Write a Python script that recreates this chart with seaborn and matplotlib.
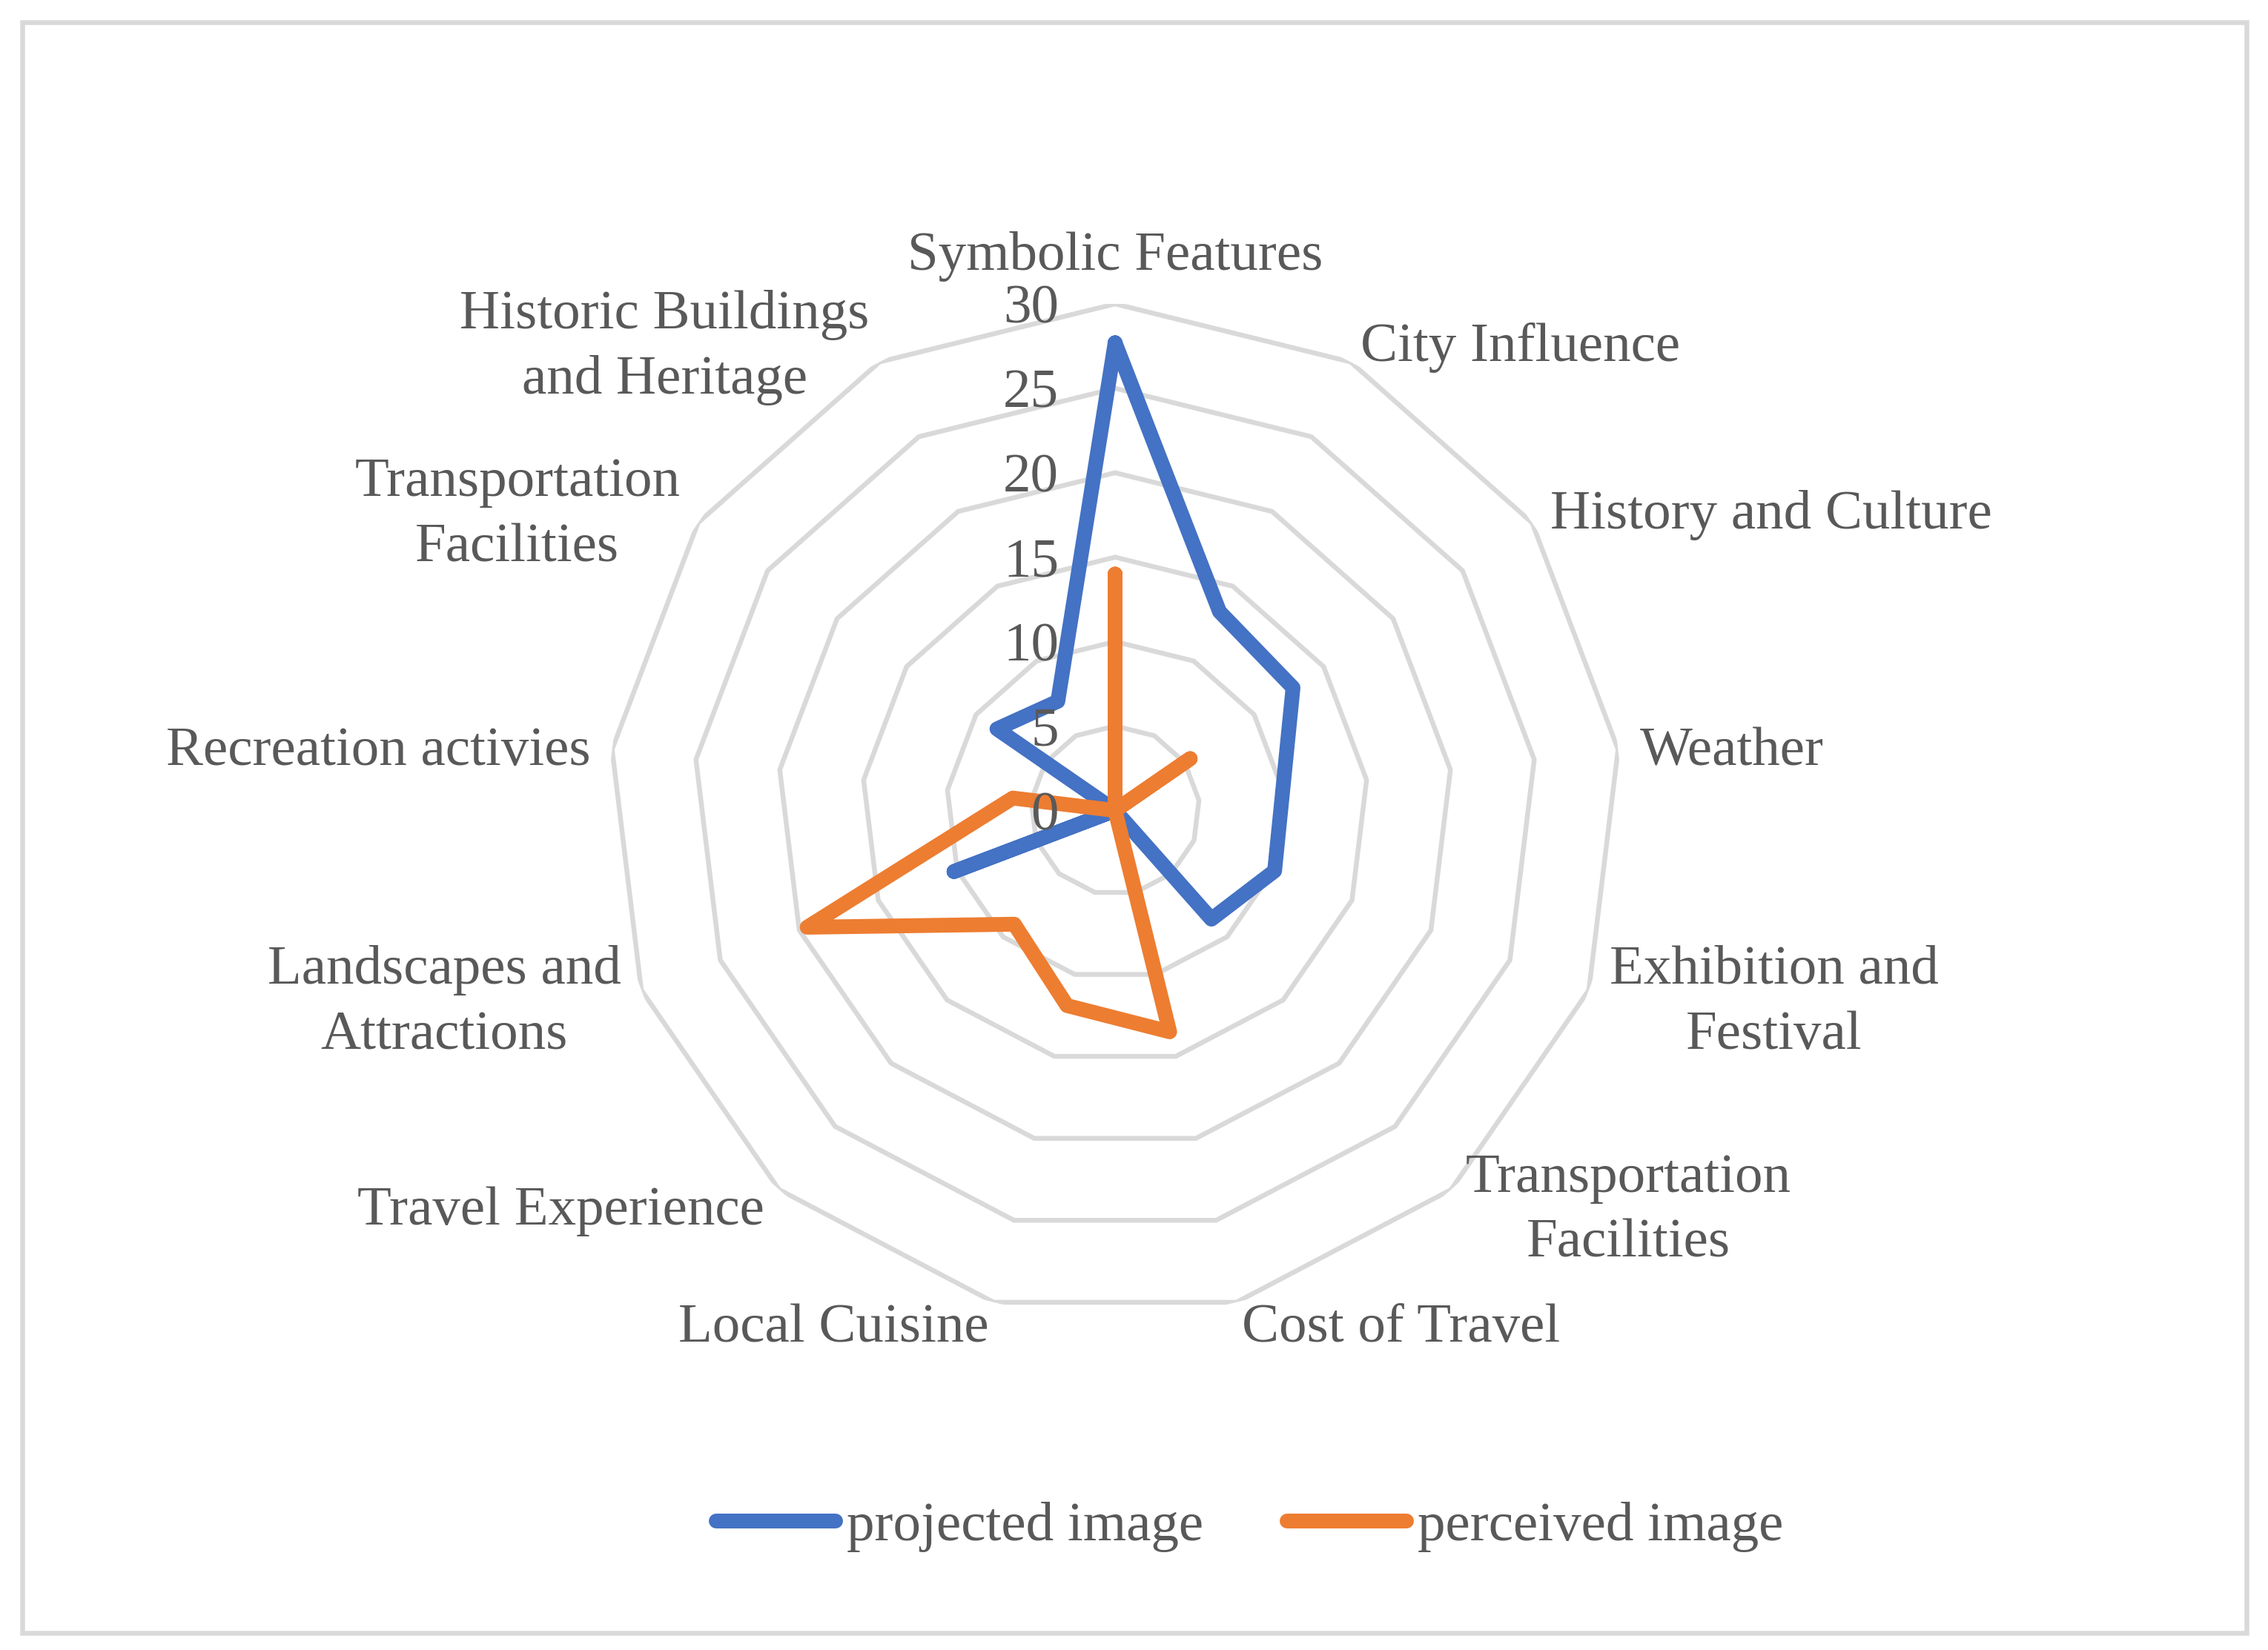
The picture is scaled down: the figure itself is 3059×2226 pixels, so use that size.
import numpy as np
import pandas as pd
import seaborn as sns
import matplotlib.pyplot as plt
from matplotlib.patches import Rectangle
from matplotlib.transforms import ScaledTranslation

categories = ["Symbolic Features", "City Influence", "History and Culture", "Weather",
              "Exhibition and\nFestival", "Transportation\nFacilities", "Cost of Travel",
              "Local Cuisine", "Travel Experience", "Landscapes and\nAttractions",
              "Recreation activies", "Transportation\nFacilities",
              "Historic Buildings\nand Heritage"]
projected = [27.7, 13.3, 12.8, 10.0, 10.1, 8.6, 0, 0, 0, 10.2, 0, 8.5, 7.3]
perceived = [14.0, 0, 5.4, 0, 0, 0, 13.5, 11.9, 9.0, 19.5, 6.1, 0, 0]
ring_ticks = [0, 5, 10, 15, 20, 25, 30]

BLUE = "#4472C4"
ORANGE = "#ED7D31"
GRID = "#D9D9D9"
TEXT = "#595959"

sns.set_style("white")
plt.rcParams["font.family"] = ["Liberation Serif", "DejaVu Serif"]
plt.rcParams["font.size"] = 18

n = len(categories)
theta = np.linspace(0, 2 * np.pi, n + 1)  # last point closes the polygon

df = pd.DataFrame({
    "theta": np.concatenate([theta, theta]),
    "value": projected + projected[:1] + perceived + perceived[:1],
    "series": ["projected image"] * (n + 1) + ["perceived image"] * (n + 1),
})

fig = plt.figure(figsize=(3059 / 300, 2226 / 300), dpi=300)
ax = fig.add_axes([0.26826, 0.20180, 0.44681, 0.61402], projection="polar")
ax.set_theta_zero_location("N")
ax.set_theta_direction(-1)
ax.set_ylim(0, 30)
ax.grid(False)
ax.set_xticks([])
ax.set_yticks([])
ax.spines["polar"].set_visible(False)

# polygon rings
for r in ring_ticks[1:]:
    ax.plot(theta, [r] * (n + 1), color=GRID, lw=1.56, zorder=1)

for name, col in [("projected image", BLUE), ("perceived image", ORANGE)]:
    sub = df[df["series"] == name]
    sns.lineplot(data=sub, x="theta", y="value", ax=ax, sort=False, estimator=None,
                 color=col, lw=4.8, label=name, solid_joinstyle="round",
                 solid_capstyle="round", zorder=3)

ax.set_xlabel("")
ax.set_ylabel("")

# radial tick labels along the vertical axis
off = ax.transData + ScaledTranslation(-76 / 300, 0, fig.dpi_scale_trans)
for r in ring_ticks:
    ax.text(0, r, str(r), transform=off, ha="right", va="center_baseline",
            color=TEXT, fontsize=18, clip_on=False)

# category labels
down = ax.transData + ScaledTranslation(0, -7 / 300, fig.dpi_scale_trans)
for ang, lab in zip(theta[:-1], categories):
    s = np.sin(ang)
    if s > 0.05:
        ha = "left"
    elif s < -0.05:
        ha = "right"
    else:
        ha = "center"
    if np.cos(ang) > 0.99:
        va, tr = "bottom", ax.transData
    else:
        va, tr = "center", down
    ax.text(ang, 31.3, lab, ha=ha, va=va, multialignment="center", transform=tr,
            color=TEXT, fontsize=18, clip_on=False, linespacing=1.4)

leg = ax.legend(loc="center", bbox_to_anchor=(0.551, 0.0746), bbox_transform=fig.transFigure,
                ncol=2, frameon=False, fontsize=18, handlelength=2.15, handletextpad=0.2,
                columnspacing=1.5, borderpad=0)
for t in leg.get_texts():
    t.set_color(TEXT)
for h in leg.legend_handles:
    h.set_solid_capstyle("round")
    h.set_linewidth(4.8)

fig.patches.append(Rectangle((29.5 / 3059, 1 - 2203 / 2226), (3030 - 29.5) / 3059,
                             (2203 - 29.5) / 2226, transform=fig.transFigure,
                             fill=False, ec=GRID, lw=1.56))

fig.savefig("out.png", dpi=300, facecolor="white")
